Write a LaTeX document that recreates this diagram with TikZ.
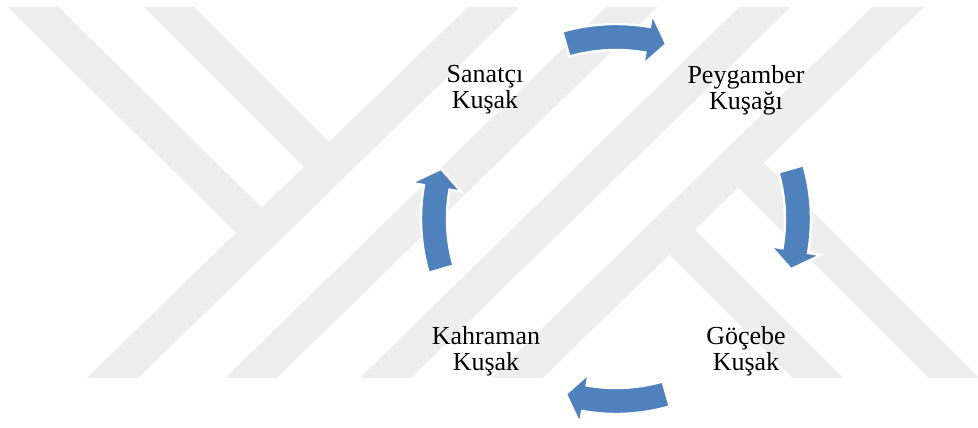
\documentclass[tikz,border=0pt]{standalone}
\usepackage{fontspec}
\setmainfont{Liberation Serif}
\usepackage{tikz}
\usepackage{xcolor}
\definecolor{arrowblue}{HTML}{4F81BD}
\definecolor{markgray}{HTML}{EEEEEE}

\begin{document}
\begin{tikzpicture}[x=0.75pt,y=0.75pt]
	 \tikzstyle{band}=[draw=markgray,line width=27pt]
	 \tikzstyle{cycle arrow}=[fill=arrowblue,draw=white,line width=1.8pt,line join=miter]
	 \tikzstyle{stage}=[align=center,inner sep=0pt,font=\fontsize{19.5}{19.5}\selectfont]

	 \useasboundingbox (0,0) rectangle (978,428);

	 % watermark
	 \begin{scope}
	 \clip (0,50) rectangle (978,420);
	 \draw[band] (523.3,450) -- (81.7,20);
	 \draw[band] (661.3,450) -- (220.2,20);
	 \draw[band] (794.7,450) -- (354.8,20);
	 \draw[band] (927.8,450) -- (486.2,20);
	 \draw[band] (3.6,450) -- (261.7,195.2);
	 \draw[band] (140,450) -- (329.1,260.9);
	 \draw[band] (738.4,265.6) -- (984,20);
	 \draw[band] (669.5,198.5) -- (848,20);
	 \end{scope}

	 \coordinate (hub) at (616,209);

	 \begin{scope}[shift={(hub)}]
	 \foreach \a in {90,0,-90,180}
	   \path[cycle arrow] (\a+16:195) arc[start angle=\a+16, end angle=\a-10, radius=195]
	     -- (\a-10:208) -- (\a-16:182) -- (\a-10:157) -- (\a-10:169)
	     arc[start angle=\a-10, end angle=\a+16, radius=169] -- cycle;
	 \end{scope}

	 \node[stage] (sanatci) at (485,338) {Sanatçı\\Kuşak};
	 \node[stage] (peygamber) at (746,338) {Peygamber\\Kuşağı};
	 \node[stage] (gocebe) at (746,76.5) {Göçebe\\Kuşak};
	 \node[stage] (kahraman) at (486,76.5) {Kahraman\\Kuşak};
\end{tikzpicture}
\end{document}
